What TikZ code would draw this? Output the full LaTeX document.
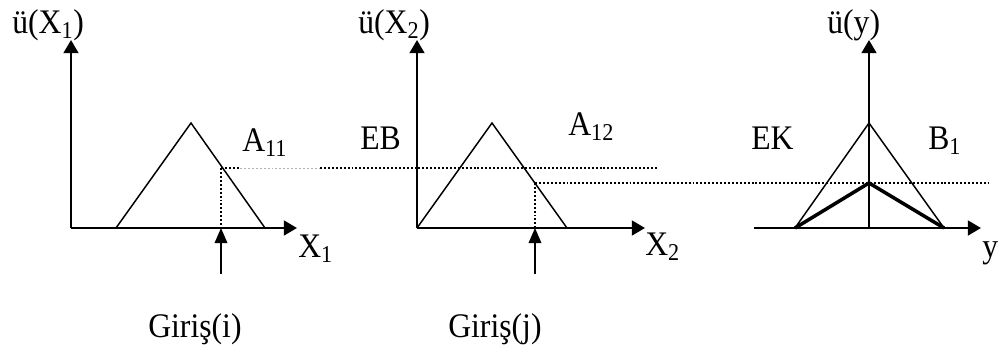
\documentclass[tikz,border=0pt]{standalone}
\usepackage{fontspec}
\setmainfont{Liberation Serif}
\newfontfamily\lblfont[FakeStretch=0.92]{Liberation Serif}
\usetikzlibrary{arrows.meta}

\begin{document}
\begin{tikzpicture}[x=0.025cm, y=-0.025cm]
  \colorlet{faintcol}{black!30}

  \tikzset{
    axis/.style={
      line width=1.8pt,
      -{Triangle[length=3.3mm, width=3.7mm]}
    },
    mf/.style={line width=1.05pt},
    clipped/.style={line width=2.5pt, line join=miter},
    level/.style={line width=1.2pt, dash pattern=on 1.4pt off 1.4pt},
    faint/.style={line width=0.5pt, dash pattern=on 1.4pt off 1.4pt, color=faintcol},
    inarr/.style={
      line width=0.9pt,
      -{Triangle[length=3.8mm, width=3.2mm]}
    },
    lbl/.style={font=\lblfont\fontsize{24.5}{28}\selectfont, inner sep=0pt, anchor=base west}
  }

  \useasboundingbox (0,0) rectangle (1001,350);

  % first input X1
  \coordinate (o1) at (71,228);
  \coordinate (ytip1) at (71,40);
  \coordinate (xtip1) at (297,228);
  \coordinate (l1) at (116,228);
  \coordinate (p1) at (191,123);
  \coordinate (r1) at (265,228);
  \coordinate (c1) at (221,168);
  \coordinate (f1) at (221,228);
  \coordinate (in1) at (221,274);
  \coordinate (g1a) at (240,168);
  \coordinate (g1b) at (320,168);
  \coordinate (e1) at (658,168);

  % second input X2
  \coordinate (o2) at (417,228);
  \coordinate (ytip2) at (417,40);
  \coordinate (xtip2) at (645,228);
  \coordinate (p2) at (492,123);
  \coordinate (r2) at (567,228);
  \coordinate (c2) at (535,183);
  \coordinate (f2) at (535,228);
  \coordinate (in2) at (535,274);

  % output y
  \coordinate (o3) at (869,228);
  \coordinate (s3) at (754,228);
  \coordinate (ytip3) at (869,40);
  \coordinate (xtip3) at (981,228);
  \coordinate (l3) at (795,228);
  \coordinate (p3) at (869,123);
  \coordinate (r3) at (944,228);
  \coordinate (c3) at (869,183);
  \coordinate (e3) at (988,183);

  \draw[mf] (l1) -- (p1) -- (r1);
  \draw[mf] (o2) -- (p2) -- (r2);
  \draw[mf] (l3) -- (p3) -- (r3);
  \draw[clipped] (l3) -- (c3) -- (r3);

  \draw[level] (c1) -- (f1);
  \draw[level] (c1) -- (g1a);
  \draw[faint] (g1a) -- (g1b);
  \draw[level] (g1b) -- (e1);
  \draw[level] (c2) -- (f2);
  \draw[level] (c2) -- (e3);

  \draw[axis] (o1) -- (ytip1);
  \draw[axis] (o1) -- (xtip1);
  \draw[axis] (o2) -- (ytip2);
  \draw[axis] (o2) -- (xtip2);
  \draw[axis] (o3) -- (ytip3);
  \draw[axis] (s3) -- (xtip3);

  \draw[inarr] (in1) -- (f1);
  \draw[inarr] (in2) -- (f2);

  \node[lbl] (mu1) at (12,33) {ü(X\textsubscript{1})};
  \node[lbl] (a11) at (242,151) {A\textsubscript{11}};
  \node[lbl] (x1) at (298,257) {X\textsubscript{1}};
  \node[lbl] (gi) at (148,337) {Giriş(i)};

  \node[lbl] (mu2) at (358,33) {ü(X\textsubscript{2})};
  \node[lbl] (eb) at (360,149) {EB};
  \node[lbl] (a12) at (568,135) {A\textsubscript{12}};
  \node[lbl] (x2) at (645,255) {X\textsubscript{2}};
  \node[lbl] (gj) at (448,337) {Giriş(j)};

  \node[lbl] (mu3) at (827,33) {ü(y)};
  \node[lbl] (ek) at (751,149) {EK};
  \node[lbl] (b1) at (928,149) {B\textsubscript{1}};
  \node[lbl] (yl) at (982,257) {y};
\end{tikzpicture}
\end{document}
